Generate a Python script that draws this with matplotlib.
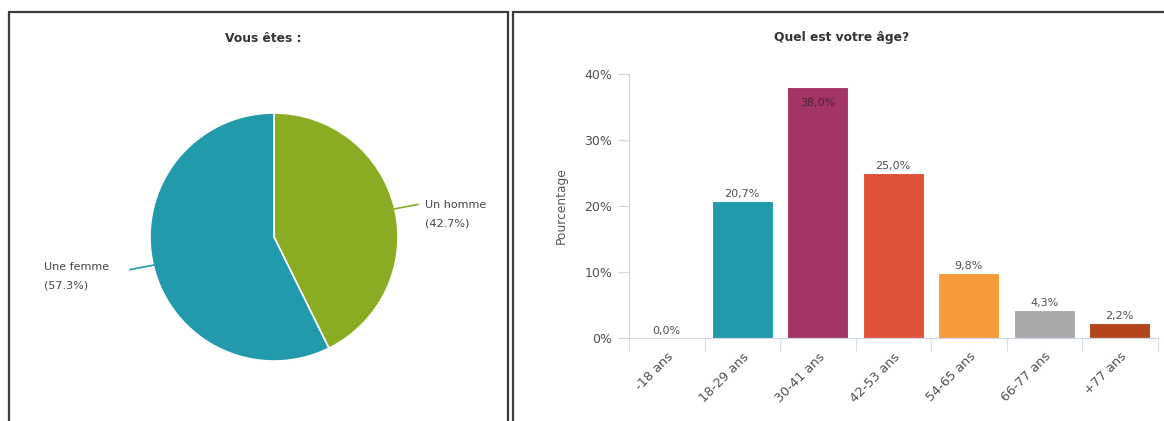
import matplotlib
matplotlib.use("Agg")
import matplotlib.pyplot as plt
from matplotlib.patches import Rectangle
from matplotlib.ticker import FixedLocator
import matplotlib.transforms as mtransforms
import numpy as np

# Sexe des répondants
sexe_labels = ["Un homme", "Une femme"]
sexe_pct = [42.7, 57.3]
sexe_colors = ["#8aac22", "#219aab"]

# Tranches d'âge
ages = ["-18 ans", "18-29 ans", "30-41 ans", "42-53 ans", "54-65 ans", "66-77 ans", "+77 ans"]
age_pct = [0.0, 20.7, 38.0, 25.0, 9.8, 4.3, 2.2]
age_colors = ["#219aab", "#219aab", "#a23565", "#e05238", "#f79a3a", "#aaaaaa", "#b4441a"]
yticks = [0, 10, 20, 30, 40]

W, H = 1164, 421
fig = plt.figure(figsize=(W / 100, H / 100), dpi=100)
fig.patch.set_facecolor("white")


def fx(x):
    return x / W


def fy(y):
    return 1 - y / H


# cadres des deux panneaux
for x0, x1 in [(9, 508), (513, 1180)]:
    fig.add_artist(Rectangle((fx(x0), fy(440)), fx(x1 - x0), (440 - 12) / H,
                             transform=fig.transFigure, fill=False,
                             edgecolor="#3a3a3a", linewidth=1.6))

fig.text(fx(263), fy(38), "Vous êtes :", ha="center", va="center",
         fontsize=8.8, fontweight="bold", color="#333333")
fig.text(fx(842), fy(38), "Quel est votre âge?", ha="center", va="center",
         fontsize=8.8, fontweight="bold", color="#333333")

# --- camembert ---
cx, cy, r = 274, 237, 124
ax1 = fig.add_axes([fx(cx - r), (H - cy - r) / H, 2 * r / W, 2 * r / H])
wedges, _ = ax1.pie(sexe_pct, colors=sexe_colors, startangle=90, counterclock=False,
                    wedgeprops=dict(edgecolor="white", linewidth=1.2))
ax1.set_xlim(-1, 1)
ax1.set_ylim(-1, 1)
ax1.set_aspect("equal")
ax1.axis("off")

for w, lab, pct, col in zip(wedges, sexe_labels, sexe_pct, sexe_colors):
    ang = np.deg2rad((w.theta1 + w.theta2) / 2)
    ex, ey = np.cos(ang), np.sin(ang)
    side = 1 if ex > 0 else -1
    lx, ly = 1.16 * side, ey + 0.035 * side
    ax1.plot([ex, lx], [ey, ly], color=col, lw=1.2, clip_on=False)
    txt = "%s\n(%.1f%%)" % (lab, pct)
    if side > 0:
        ax1.text(1.22, ly + 0.035, txt, ha="left", va="top", fontsize=8,
                 color="#444444", linespacing=2.1)
    else:
        ax1.text(-1.33, ly + 0.06, txt, ha="right", va="top", fontsize=8,
                 color="#444444", linespacing=2.1, multialignment="left")

# --- histogramme des âges ---
ax2 = fig.add_axes([fx(629), (H - 338) / H, 528.5 / W, 264 / H])
x = np.arange(len(ages))
ax2.bar(x, age_pct, width=0.81, color=age_colors, edgecolor="white", linewidth=0.8)
ax2.set_xlim(-0.5, len(ages) - 0.5)
ax2.set_ylim(0, 40)

axis_col = "#cdd6e6"
for s in ["top", "right"]:
    ax2.spines[s].set_visible(False)
ax2.spines["left"].set_color(axis_col)
ax2.spines["bottom"].set_color(axis_col)

ax2.set_yticks(yticks)
ax2.set_yticklabels(["%d%%" % t for t in yticks])
ax2.tick_params(axis="y", length=8, color=axis_col, labelsize=9, labelcolor="#505050", pad=4)

ax2.set_xticks(x)
ax2.set_xticklabels(ages, rotation=45, ha="right", va="center", rotation_mode="anchor")
ax2.xaxis.set_minor_locator(FixedLocator(np.arange(-0.5, len(ages), 1.0)))
ax2.tick_params(axis="x", which="major", length=0, labelsize=9.3, labelcolor="#505050", pad=12)
ax2.tick_params(axis="x", which="minor", length=9, color=axis_col)
shift = mtransforms.ScaledTranslation(5 / 100, 0, fig.dpi_scale_trans)
for lab in ax2.get_xticklabels():
    lab.set_transform(lab.get_transform() + shift)

ax2.set_ylabel("Pourcentage", fontsize=8.8, color="#555555")
ax2.yaxis.set_label_coords(-0.115, 0.5)

# étiquettes de valeur
for xi, v in zip(x, age_pct):
    s = ("%.1f%%" % v).replace(".", ",")
    if v > 36:
        ax2.annotate(s, (xi, v), xytext=(0, -8), textcoords="offset points",
                     ha="center", va="top", fontsize=8, color="#4a2236")
    else:
        ax2.annotate(s, (xi, v), xytext=(0, 1.5), textcoords="offset points",
                     ha="center", va="bottom", fontsize=8, color="#505050")

fig.savefig("out.png", dpi=100)
